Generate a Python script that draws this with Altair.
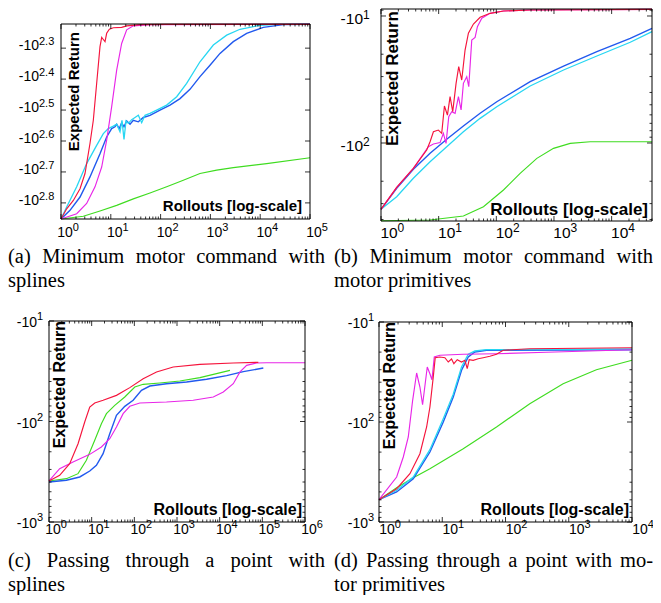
import altair as alt
import numpy as np
import pandas as pd

# x values: log10(rollouts); y values: log10(|expected return|)
# ---------------- (a) Minimum motor command with splines ----------------
a_red_x = [0, 0.114, 0.248, 0.382, 0.482, 0.582, 0.649, 0.716, 0.783, 0.817, 0.850, 0.884, 0.917, 0.971, 1.051, 1.218, 1.319, 1.586, 2.122, 5.0]
a_red_y = [2.852, 2.819, 2.792, 2.754, 2.705, 2.608, 2.533, 2.414, 2.295, 2.265, 2.272, 2.279, 2.252, 2.239, 2.234, 2.233, 2.228, 2.224, 2.223, 2.223]
a_mag_x = [0, 0.315, 0.515, 0.683, 0.817, 0.917, 1.017, 1.118, 1.218, 1.319, 1.452, 1.787, 5.0]
a_mag_y = [2.852, 2.835, 2.802, 2.748, 2.684, 2.597, 2.490, 2.371, 2.285, 2.241, 2.228, 2.224, 2.223]
a_blue_x = [0, 0.181, 0.382, 0.582, 0.783, 0.917, 1.017, 1.084, 1.118, 1.171, 1.218, 1.265, 1.319, 1.386, 1.452, 1.553, 1.653, 1.787, 1.988, 2.189, 2.390, 2.590, 2.791, 2.992, 3.193, 3.460, 3.728, 4.063, 4.465, 5.0]
a_blue_y = [2.852, 2.824, 2.781, 2.716, 2.641, 2.587, 2.560, 2.554, 2.546, 2.560, 2.541, 2.554, 2.535, 2.546, 2.533, 2.538, 2.524, 2.517, 2.500, 2.484, 2.463, 2.433, 2.392, 2.355, 2.317, 2.279, 2.252, 2.233, 2.224, 2.223]
a_cyan_x = [0, 0.114, 0.315, 0.515, 0.716, 0.850, 0.950, 1.051, 1.118, 1.185, 1.225, 1.265, 1.305, 1.352, 1.419, 1.486, 1.553, 1.620, 1.687, 1.787, 1.921, 2.122, 2.323, 2.523, 2.791, 3.059, 3.327, 3.594, 3.996, 4.331, 5.0]
a_cyan_y = [2.852, 2.813, 2.748, 2.673, 2.614, 2.576, 2.560, 2.552, 2.546, 2.570, 2.533, 2.595, 2.535, 2.543, 2.531, 2.524, 2.517, 2.541, 2.517, 2.511, 2.500, 2.484, 2.457, 2.414, 2.344, 2.290, 2.258, 2.239, 2.226, 2.223, 2.223]
a_green_x = [0, 0.448, 0.783, 1.118, 1.452, 1.787, 2.122, 2.456, 2.791, 3.126, 3.460, 4.130, 5.0]
a_green_y = [2.852, 2.843, 2.826, 2.808, 2.787, 2.768, 2.748, 2.727, 2.705, 2.694, 2.686, 2.673, 2.654]

# ---------------- (b) Minimum motor command with motor primitives ----------------
b_red_x = [0, 0.272, 0.561, 0.793, 0.851, 0.909, 0.995, 1.053, 1.100, 1.152, 1.198, 1.244, 1.302, 1.348, 1.400, 1.458, 1.516, 1.603, 1.719, 1.892, 2.124, 2.587, 4.7]
b_red_y = [2.522, 2.349, 2.199, 2.055, 1.990, 1.911, 1.898, 1.924, 1.709, 1.780, 1.635, 1.753, 1.530, 1.399, 1.504, 1.268, 1.136, 1.063, 1.010, 0.979, 0.961, 0.953, 0.948]
b_mag_x = [0, 0.272, 0.561, 0.822, 0.909, 1.024, 1.082, 1.128, 1.175, 1.227, 1.285, 1.343, 1.389, 1.429, 1.487, 1.522, 1.574, 1.632, 1.672, 1.748, 1.892, 2.124, 2.587, 4.7]
b_mag_y = [2.522, 2.349, 2.199, 2.029, 2.008, 1.997, 1.924, 2.003, 1.793, 1.753, 1.766, 1.635, 1.740, 1.530, 1.478, 1.556, 1.189, 1.168, 1.084, 1.018, 0.979, 0.961, 0.953, 0.948]
b_blue_x = [0, 0.272, 0.561, 0.851, 1.140, 1.429, 1.719, 2.008, 2.587, 3.166, 3.744, 4.323, 4.7]
b_blue_y = [2.522, 2.357, 2.207, 2.081, 1.971, 1.866, 1.766, 1.675, 1.517, 1.394, 1.281, 1.176, 1.097]
b_cyan_x = [0, 0.272, 0.561, 0.851, 1.140, 1.429, 1.719, 2.008, 2.587, 3.166, 3.744, 4.323, 4.7]
b_cyan_y = [2.522, 2.423, 2.278, 2.147, 2.029, 1.911, 1.806, 1.714, 1.551, 1.425, 1.315, 1.207, 1.123]
b_green_x = [0, 0.851, 1.429, 1.777, 2.124, 2.413, 2.703, 2.992, 3.281, 3.628, 4.7]
b_green_y = [2.612, 2.606, 2.575, 2.501, 2.370, 2.239, 2.121, 2.042, 2.003, 1.990, 1.990]

# ---------------- (c) Passing through a point with splines ----------------
c_red_x = [0, 0.250, 0.485, 0.681, 0.837, 0.955, 1.072, 1.268, 1.581, 1.894, 2.207, 2.520, 2.911, 3.537, 4.319, 4.906]
c_red_y = [2.592, 2.536, 2.420, 2.221, 2.005, 1.856, 1.816, 1.789, 1.740, 1.663, 1.574, 1.507, 1.458, 1.431, 1.418, 1.411]
c_mag_x = [0, 0.250, 0.563, 0.955, 1.228, 1.424, 1.581, 1.737, 1.894, 2.128, 2.754, 3.380, 3.850, 4.085, 4.319, 4.476, 4.632, 4.867, 5.102, 6.0]
c_mag_y = [2.592, 2.469, 2.403, 2.327, 2.254, 2.171, 2.055, 1.922, 1.849, 1.816, 1.806, 1.789, 1.756, 1.706, 1.624, 1.507, 1.441, 1.418, 1.415, 1.415]
c_blue_x = [0, 0.407, 0.720, 0.955, 1.111, 1.268, 1.424, 1.581, 1.776, 1.972, 2.167, 2.363, 2.754, 3.224, 3.693, 4.163, 4.554, 5.023]
c_blue_y = [2.602, 2.585, 2.552, 2.493, 2.436, 2.320, 2.121, 1.939, 1.849, 1.789, 1.690, 1.647, 1.624, 1.607, 1.580, 1.544, 1.504, 1.468]
c_green_x = [0, 0.407, 0.681, 0.876, 1.072, 1.228, 1.346, 1.541, 1.776, 2.011, 2.207, 2.598, 3.067, 3.537, 4.241]
c_green_y = [2.592, 2.569, 2.519, 2.386, 2.187, 2.022, 1.922, 1.839, 1.756, 1.657, 1.630, 1.617, 1.597, 1.564, 1.491]

# ---------------- (d) Passing through a point with motor primitives ----------------
d_red_x = [0, 0.279, 0.489, 0.647, 0.753, 0.805, 0.858, 0.889, 0.963, 1.042, 1.095, 1.147, 1.184, 1.237, 1.305, 1.358, 1.395, 1.426, 1.489, 1.568, 1.647, 1.753, 1.858, 1.963, 2.384, 4.0]
d_red_y = [2.777, 2.667, 2.517, 2.317, 2.050, 1.850, 1.550, 1.357, 1.350, 1.357, 1.400, 1.370, 1.417, 1.377, 1.400, 1.383, 1.467, 1.377, 1.383, 1.367, 1.357, 1.343, 1.323, 1.283, 1.267, 1.257]
d_mag_x = [0, 0.279, 0.384, 0.463, 0.532, 0.595, 0.647, 0.689, 0.763, 0.805, 0.837, 0.874, 0.963, 1.332, 1.858, 2.647, 4.0]
d_mag_y = [2.777, 2.550, 2.350, 2.150, 1.783, 1.510, 1.650, 1.827, 1.450, 1.517, 1.577, 1.350, 1.333, 1.323, 1.317, 1.303, 1.277]
d_blue_x = [0, 0.279, 0.542, 0.805, 1.016, 1.174, 1.305, 1.411, 1.516, 1.700, 4.0]
d_blue_y = [2.777, 2.700, 2.567, 2.300, 2.000, 1.750, 1.483, 1.350, 1.300, 1.283, 1.277]
d_cyan_x = [0, 0.279, 0.542, 0.805, 1.016, 1.174, 1.305, 1.411, 1.516, 1.700, 4.0]
d_cyan_y = [2.777, 2.683, 2.550, 2.277, 1.967, 1.723, 1.450, 1.323, 1.290, 1.277, 1.270]
d_green_x = [0, 0.279, 0.542, 0.805, 1.332, 1.858, 2.384, 2.911, 3.437, 4.0]
d_green_y = [2.777, 2.657, 2.557, 2.467, 2.267, 2.050, 1.817, 1.617, 1.477, 1.383]

# tick labels
a_ytick_vals = [2.3, 2.4, 2.5, 2.6, 2.7, 2.8]
a_ytick_exps = ["2.3", "2.4", "2.5", "2.6", "2.7", "2.8"]
b_ytick_vals = [1, 2]
b_ytick_exps = ["1", "2"]
cd_ytick_vals = [1, 2, 3]
cd_ytick_exps = ["1", "2", "3"]

captions = {
    "a": ["(a) Minimum motor command with", "splines"],
    "b": ["(b) Minimum motor command with", "motor primitives"],
    "c": ["(c) Passing through a point with", "splines"],
    "d": ["(d) Passing through a point with mo-", "tor primitives"],
}

COLORS = {"red": "#f5143c", "magenta": "#e826e8", "blue": "#2159ee",
          "cyan": "#27d6f2", "green": "#3fdc20"}
ORDER = ["green", "blue", "cyan", "magenta", "red"]
WIDTHS = {"red": 1.15, "magenta": 1.15, "blue": 1.4, "cyan": 1.3, "green": 1.15}

SERIES = {
    "a": {"red": (a_red_x, a_red_y), "magenta": (a_mag_x, a_mag_y), "blue": (a_blue_x, a_blue_y),
          "cyan": (a_cyan_x, a_cyan_y), "green": (a_green_x, a_green_y)},
    "b": {"red": (b_red_x, b_red_y), "magenta": (b_mag_x, b_mag_y), "blue": (b_blue_x, b_blue_y),
          "cyan": (b_cyan_x, b_cyan_y), "green": (b_green_x, b_green_y)},
    "c": {"red": (c_red_x, c_red_y), "magenta": (c_mag_x, c_mag_y), "blue": (c_blue_x, c_blue_y),
          "green": (c_green_x, c_green_y)},
    "d": {"red": (d_red_x, d_red_y), "magenta": (d_mag_x, d_mag_y), "blue": (d_blue_x, d_blue_y),
          "cyan": (d_cyan_x, d_cyan_y), "green": (d_green_x, d_green_y)},
}

# layout / style per panel (pixel ranges relative to the chart origin)
STYLE = {
    "a": dict(xdom=[0, 5], ydom=[2.222, 2.852], xr=[53, 302], yr=[16, 211], ylog=False,
              yvals=a_ytick_vals, yexps=a_ytick_exps, lab=14, exp=11, ttl=15,
              ylab_dx=-22, ylab_dy=-2, yexp_dy=-6, xlab_dx=4, xlab_dy=13.5,
              er_dx=-8, er_dy=6, ro_dx=-8, ro_dy=-8),
    "b": dict(xdom=[0, 4.7], ydom=[0.945, 2.614], xr=[373, 644], yr=[1, 213], ylog=True,
              yvals=b_ytick_vals, yexps=b_ytick_exps, lab=15.5, exp=12, ttl=17,
              ylab_dx=-18, ylab_dy=3, yexp_dy=-1, xlab_dx=8, xlab_dy=11.5,
              er_dx=-2, er_dy=4, ro_dx=-4, ro_dy=-6),
    "c": dict(xdom=[0, 6], ydom=[1, 3], xr=[41, 297], yr=[313, 514], ylog=True,
              yvals=cd_ytick_vals, yexps=cd_ytick_exps, lab=14, exp=11, ttl=16,
              ylab_dx=-12, ylab_dy=2, yexp_dy=-4, xlab_dx=4, xlab_dy=7.5,
              er_dx=0, er_dy=3, ro_dx=-3, ro_dy=-7),
    "d": dict(xdom=[0, 4], ydom=[1, 3], xr=[371, 624], yr=[314, 514], ylog=True,
              yvals=cd_ytick_vals, yexps=cd_ytick_exps, lab=14, exp=11, ttl=16,
              ylab_dx=-11, ylab_dy=2, yexp_dy=-4, xlab_dx=8, xlab_dy=7.5,
              er_dx=0, er_dy=3, ro_dx=-3, ro_dy=-7),
}

SANS = "Liberation Sans"
SERIF = "Liberation Serif"
ONE = pd.DataFrame({"k": [0]})


def log_minor(lo, hi):
    out = []
    for d in range(int(np.floor(lo)) - 1, int(np.ceil(hi)) + 1):
        for k in range(2, 10):
            v = d + np.log10(k)
            if lo < v < hi:
                out.append(round(float(v), 4))
    return out


def make_panel(key):
    s = STYLE[key]
    xs = alt.Scale(domain=s["xdom"], range=s["xr"], nice=False, zero=False)
    ys = alt.Scale(domain=s["ydom"], range=s["yr"], nice=False, zero=False)
    x0, x1 = s["xdom"]
    y0, y1 = s["ydom"]

    def X(f):
        return alt.X(f, type="quantitative", scale=xs, axis=None)

    def Y(f):
        return alt.Y(f, type="quantitative", scale=ys, axis=None)

    def XD(v):
        return alt.XDatum(v, scale=xs, axis=None)

    def YD(v):
        return alt.YDatum(v, scale=ys, axis=None)

    layers = []
    for name in ORDER:
        if name not in SERIES[key]:
            continue
        xv, yv = SERIES[key][name]
        df = pd.DataFrame({"rollouts_log10": xv, "return_log10": yv})
        layers.append(
            alt.Chart(df).mark_line(color=COLORS[name], strokeWidth=WIDTHS[name])
            .encode(x=X("rollouts_log10"), y=Y("return_log10"))
        )

    # frame
    layers.append(
        alt.Chart(ONE).mark_rect(fill="white", fillOpacity=0, stroke="black", strokeWidth=1)
        .encode(x=XD(x0), x2=alt.X2Datum(x1), y=YD(y0), y2=alt.Y2Datum(y1))
    )

    # ticks (inward, on all four sides)
    xmaj = [float(v) for v in range(int(np.ceil(x0)), int(np.floor(x1)) + 1)]
    xmin = log_minor(x0, x1)
    ymaj = [float(v) for v in s["yvals"]]
    ymin = log_minor(y0, y1) if s["ylog"] else []
    for vals, ln in ((xmaj, 5), (xmin, 2.5)):
        if not vals:
            continue
        df = pd.DataFrame({"v": vals})
        for yy, off in ((y1, -ln), (y0, ln)):
            layers.append(
                alt.Chart(df).mark_rule(color="black", strokeWidth=0.8, y2Offset=off)
                .encode(x=X("v"), y=YD(yy), y2=alt.Y2Datum(yy))
            )
    for vals, ln in ((ymaj, 5), (ymin, 2.5)):
        if not vals:
            continue
        df = pd.DataFrame({"v": vals})
        for xx, off in ((x0, ln), (x1, -ln)):
            layers.append(
                alt.Chart(df).mark_rule(color="black", strokeWidth=0.8, x2Offset=off)
                .encode(y=Y("v"), x=XD(xx), x2=alt.X2Datum(xx))
            )

    # x tick labels 10^k
    xl = pd.DataFrame({"v": xmaj, "base": ["10"] * len(xmaj),
                       "expo": [str(int(v)) for v in xmaj]})
    layers.append(
        alt.Chart(xl).mark_text(font=SANS, fontSize=s["lab"], align="center", baseline="middle",
                                dx=s["xlab_dx"], dy=s["xlab_dy"], color="black")
        .encode(x=X("v"), y=YD(y1), text="base:N")
    )
    layers.append(
        alt.Chart(xl).mark_text(font=SANS, fontSize=s["exp"], align="left", baseline="middle",
                                dx=s["xlab_dx"] + 0.556 * s["lab"], dy=s["xlab_dy"] - 5, color="black")
        .encode(x=X("v"), y=YD(y1), text="expo:N")
    )
    # y tick labels -10^k
    yl = pd.DataFrame({"v": s["yvals"], "base": ["-10"] * len(s["yvals"]), "expo": s["yexps"]})
    layers.append(
        alt.Chart(yl).mark_text(font=SANS, fontSize=s["lab"], align="right", baseline="middle",
                                dx=s["ylab_dx"], dy=s["ylab_dy"], color="black")
        .encode(x=XD(x0), y=Y("v"), text="base:N")
    )
    layers.append(
        alt.Chart(yl).mark_text(font=SANS, fontSize=s["exp"], align="left", baseline="middle",
                                dx=s["ylab_dx"], dy=s["yexp_dy"], color="black")
        .encode(x=XD(x0), y=Y("v"), text="expo:N")
    )
    # axis titles inside the frame
    layers.append(
        alt.Chart(ONE).mark_text(font=SANS, fontWeight="bold", fontSize=s["ttl"], angle=270,
                                 align="right", baseline="top", dx=s["er_dx"], dy=s["er_dy"],
                                 color="black", text="Expected Return")
        .encode(x=XD(x0), y=YD(y0))
    )
    layers.append(
        alt.Chart(ONE).mark_text(font=SANS, fontWeight="bold", fontSize=s["ttl"],
                                 align="right", baseline="alphabetic", dx=s["ro_dx"], dy=s["ro_dy"],
                                 color="black", text="Rollouts [log-scale]")
        .encode(x=XD(x1), y=YD(y1))
    )
    return alt.layer(*layers)


# ---- captions (justified first line, like the printed figure) ----
TIMES_W = {'(': .333, ')': .333, 'a': .444, 'b': .5, 'c': .444, 'd': .5, 'e': .444, 'g': .5,
           'h': .5, 'i': .278, 'l': .278, 'm': .778, 'n': .5, 'o': .5, 'p': .5, 'r': .333,
           's': .389, 't': .278, 'u': .5, 'v': .5, 'w': .722, 'M': .889, 'P': .556, '-': .333}
CAP_FS = 20.5
CAP_BOX = {"a": (0, 317, 249), "b": (326, 645, 249), "c": (0, 317, 553), "d": (326, 645, 553)}
LINE_GAP = 24

rows = []
for key, (l1, l2) in captions.items():
    left, right, ytop = CAP_BOX[key]
    words = l1.split()
    widths = [sum(TIMES_W.get(ch, .5) for ch in w) * CAP_FS for w in words]
    gap = (right - left - sum(widths)) / (len(words) - 1)
    xpos = left
    for w, wd in zip(words, widths):
        rows.append({"text": w, "px": xpos, "py": ytop})
        xpos += wd + gap
    rows.append({"text": l2, "px": left, "py": ytop + LINE_GAP})
cap_df = pd.DataFrame(rows)

caption_layer = alt.Chart(cap_df).mark_text(
    font=SERIF, fontSize=CAP_FS, align="left", baseline="middle", color="black"
).encode(
    x=alt.X("px:Q", scale=None, axis=None),
    y=alt.Y("py:Q", scale=None, axis=None),
    text="text:N",
)

chart = alt.layer(
    make_panel("a"), make_panel("b"), make_panel("c"), make_panel("d"), caption_layer
).resolve_scale(
    x="independent", y="independent"
).properties(
    width=645, height=587, padding=0, autosize="none"
).configure_view(stroke=None)

chart.save("out.html", embed_options={"renderer": "svg", "actions": False})
